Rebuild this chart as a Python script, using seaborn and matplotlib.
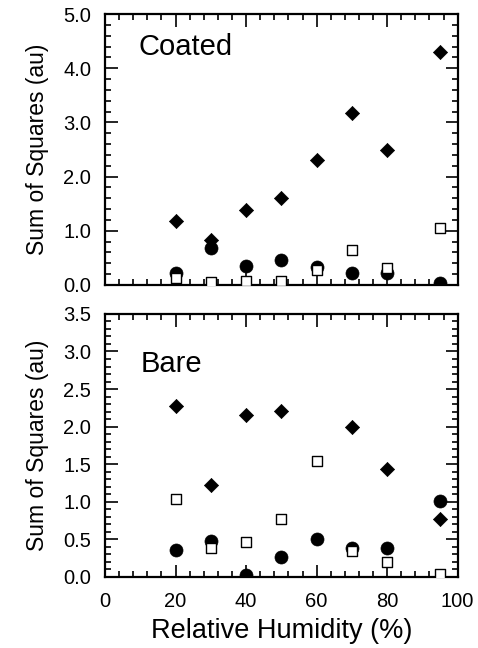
import matplotlib.pyplot as plt
import matplotlib.ticker as mticker
import seaborn as sns

humidity = [20, 30, 40, 50, 60, 70, 80, 95]

coated_diamond = [1.19, 0.83, 1.38, 1.60, 2.30, 3.17, 2.50, 4.31]
coated_circle = [0.22, 0.69, 0.35, 0.46, 0.33, 0.23, 0.22, 0.03]
coated_square = [0.13, 0.06, 0.08, 0.07, 0.27, 0.64, 0.32, 1.05]

bare_hum_diamond = [20, 30, 40, 50, 70, 80, 95]
bare_diamond = [2.28, 1.23, 2.15, 2.21, 2.00, 1.43, 0.77]
bare_circle = [0.36, 0.48, 0.02, 0.27, 0.51, 0.38, 0.38, 1.01]
bare_square = [1.04, 0.38, 0.46, 0.77, 1.54, 0.35, 0.20, 0.04]

sns.set_style("ticks")
plt.rcParams["font.family"] = ["Liberation Sans", "DejaVu Sans"]
plt.rcParams["text.color"] = "black"
plt.rcParams["axes.labelcolor"] = "black"
plt.rcParams["xtick.color"] = "black"
plt.rcParams["ytick.color"] = "black"
plt.rcParams["axes.edgecolor"] = "black"

fig = plt.figure(figsize=(4.78, 6.48), dpi=100)
ax1 = fig.add_axes([0.2197, 0.5602, 0.7378, 0.418])
ax2 = fig.add_axes([0.2197, 0.1096, 0.7378, 0.406])


def draw(ax, xd, yd, yc, ys):
    sns.scatterplot(x=xd, y=yd, ax=ax, marker="D", s=52, color="black",
                    edgecolor="black", linewidth=0.5, zorder=3)
    sns.scatterplot(x=humidity, y=yc, ax=ax, marker="o", s=88, color="black",
                    edgecolor="black", linewidth=0.5, zorder=3)
    sns.scatterplot(x=humidity, y=ys, ax=ax, marker="s", s=60, color="white",
                    edgecolor="black", linewidth=1.0, zorder=4)
    ax.set_xlim(0, 100)
    ax.xaxis.set_major_locator(mticker.MultipleLocator(20))
    ax.xaxis.set_minor_locator(mticker.MultipleLocator(4))
    ax.yaxis.set_major_formatter(mticker.FormatStrFormatter("%.1f"))
    ax.tick_params(which="both", direction="in", top=True, right=True,
                   labelsize=14.5, width=1.2)
    ax.tick_params(which="major", length=9)
    ax.tick_params(which="minor", length=4.5)
    ax.tick_params(axis="y", pad=10)
    ax.tick_params(axis="x", pad=11)
    for sp in ax.spines.values():
        sp.set_linewidth(1.6)
        sp.set_visible(True)
    ax.set_ylabel("Sum of Squares (au)", fontsize=16.5, labelpad=10)


draw(ax1, humidity, coated_diamond, coated_circle, coated_square)
ax1.set_ylim(0, 5)
ax1.yaxis.set_major_locator(mticker.MultipleLocator(1))
ax1.yaxis.set_minor_locator(mticker.MultipleLocator(0.2))
ax1.tick_params(axis="x", labelbottom=False)
ax1.text(0.095, 0.85, "Coated", transform=ax1.transAxes, fontsize=21)

draw(ax2, bare_hum_diamond, bare_diamond, bare_circle, bare_square)
ax2.set_ylim(0, 3.5)
ax2.yaxis.set_major_locator(mticker.MultipleLocator(0.5))
ax2.yaxis.set_minor_locator(mticker.MultipleLocator(0.1))
ax2.text(0.1, 0.78, "Bare", transform=ax2.transAxes, fontsize=21)
ax2.set_xlabel("Relative Humidity (%)", fontsize=19.5, labelpad=5)

fig.savefig("out.png", dpi=100)
